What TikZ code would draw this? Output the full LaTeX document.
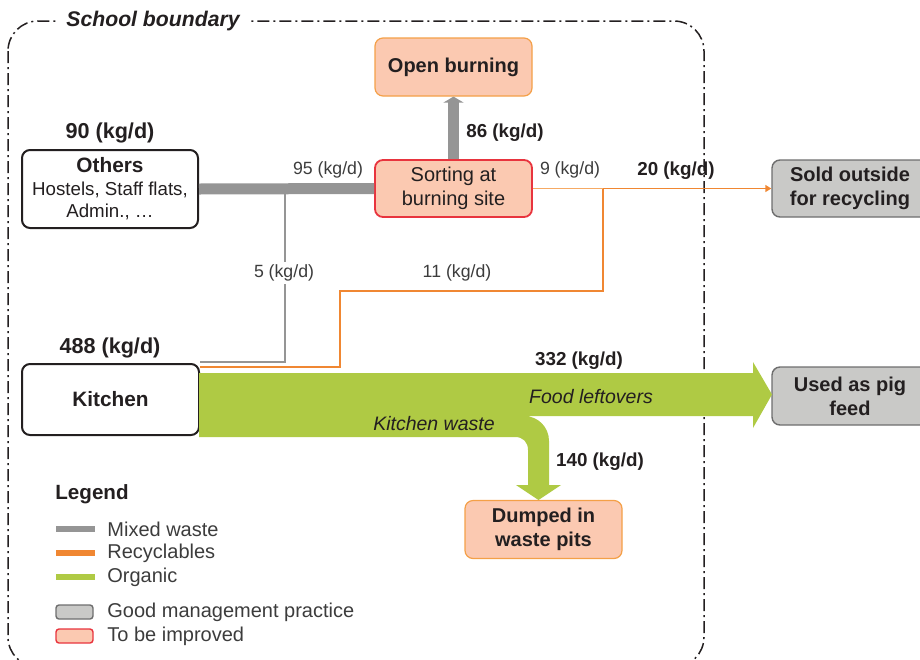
\documentclass[tikz,border=0pt]{standalone}
\usepackage{fontspec}
\setmainfont{Liberation Sans}
\usetikzlibrary{arrows.meta}

\definecolor{ink}{RGB}{35,31,32}
\definecolor{flowink}{RGB}{60,60,60}
\definecolor{mixgray}{RGB}{149,149,149}
\definecolor{recorange}{RGB}{240,135,50}
\definecolor{lightorange}{RGB}{246,170,100}
\definecolor{orggreen}{RGB}{175,202,68}
\definecolor{salmon}{RGB}{251,201,177}
\definecolor{badred}{RGB}{232,52,62}
\definecolor{boxorange}{RGB}{244,160,72}
\definecolor{goodgray}{RGB}{201,201,199}
\definecolor{goodedge}{RGB}{110,110,110}

\begin{document}
\begin{tikzpicture}[x=0.5pt,y=-0.5pt,
  every node/.style={text=ink},
  boundary/.style={draw=ink,line width=0.75pt,rounded corners=15pt,
    dash pattern=on 6pt off 2pt on 1pt off 2pt},
  srcbox/.style={draw=ink,line width=1pt,fill=white,rounded corners=4pt,
    inner sep=0pt,align=center},
  badbox/.style={draw=badred,line width=0.9pt,fill=salmon,rounded corners=4pt,
    inner sep=0pt,align=center,minimum width=78.5pt,minimum height=28.5pt},
  warnbox/.style={badbox,draw=boxorange,line width=0.6pt,minimum height=29pt},
  goodbox/.style={badbox,draw=goodedge,line width=0.7pt,fill=goodgray,minimum width=78pt},
  boxtitle/.style={font=\fontsize{10}{12}\selectfont\bfseries},
  srckg/.style={font=\fontsize{10.8}{12}\selectfont\bfseries,yshift=-1pt},
  kglabel/.style={font=\fontsize{9.4}{11}\selectfont\bfseries,yshift=-1pt},
  flowlabel/.style={font=\fontsize{8.85}{10.6}\selectfont,text=flowink,yshift=-0.5pt},
  flowitalic/.style={font=\fontsize{9.75}{11}\selectfont\itshape,yshift=-1pt},
  legtext/.style={font=\fontsize{10}{12}\selectfont,text=flowink,anchor=west,inner sep=0pt},
  mixed/.style={draw=mixgray},
  recycl/.style={draw=recorange,line width=0.7pt}
]

\clip (0,0) rectangle (920,659);

% School boundary
\draw[boundary] (8,21) rectangle (704,667);
\node[fill=white,inner xsep=4pt,inner ysep=1pt,
  font=\fontsize{10.6}{12}\selectfont\bfseries\itshape] (bound) at (153,21) {School boundary};

% Sources
\node[srcbox,minimum width=88pt,minimum height=39pt,
  font=\fontsize{9.35}{11.25}\selectfont] (others) at (110,189)
  {{\fontsize{10.4}{11.25}\selectfont\bfseries Others}\\Hostels, Staff flats,\\Admin., …};
\node[srcbox,minimum width=88.5pt,minimum height=35.5pt,
  font=\fontsize{10.4}{12}\selectfont\bfseries] (kitchen) at (110.5,399.5) {Kitchen};
\node[srckg] (othkg) at (110,131) {90 (kg/d)};
\node[srckg] (kitkg) at (110,346) {488 (kg/d)};

% Sorting and destinations
\node[badbox,font=\fontsize{10}{12}\selectfont] (sorting) at (453.5,188.5) {Sorting at\\burning site};
\node[warnbox,boxtitle] (burn) at (453.5,67) {Open burning};
\node[warnbox,boxtitle] (pits) at (543.5,529.5) {Dumped in\\waste pits};
\node[goodbox,boxtitle] (sold) at (850,188.5) {Sold outside\\for recycling};
\node[goodbox,boxtitle,minimum height=29pt] (pig) at (850,396) {Used as pig\\feed};

% Mixed waste
\coordinate (split) at (285,188);
\draw[mixed,line width=5.5pt] (others.east) -- (sorting.west);
\draw[mixed,line width=0.6pt] (split) |- ([yshift=0.5pt]kitchen.north east);
\draw[mixed,line width=5.5pt,-{Triangle[width=10pt,length=3pt]}] (sorting.north) -- (burn.south);
\node[flowlabel] at (328,169) {95 (kg/d)};
\node[flowlabel,fill=white,inner sep=1.5pt] at (284,272) {5 (kg/d)};
\node[kglabel] at (505,131) {86 (kg/d)};

% Recyclables
\coordinate (rjoin) at (603,188.5);
\draw[draw=lightorange,line width=0.6pt] (sorting.east) -- (rjoin);
\draw[recycl,-{Triangle[width=3.5pt,length=3pt]}] (rjoin) -- (sold.west);
\draw[recycl] ([yshift=-2pt]kitchen.north east) -| (340,291) -| (rjoin);
\node[flowlabel] at (570,169) {9 (kg/d)};
\node[kglabel] at (676,169) {20 (kg/d)};
\node[flowlabel] at (457,272) {11 (kg/d)};

% Organic
\fill[orggreen] (199,373) -- (753,373) -- (753,362) -- (772,394.5) -- (753,428) -- (753,416)
  -- (524,416) .. controls (538,416) and (549,427) .. (549,441) -- (549,485) -- (561,485)
  -- (538.5,500) -- (516,485) -- (528,485) -- (528,450)
  .. controls (528,442) and (523,437) .. (515,437) -- (199,437) -- cycle;
\node[flowitalic] at (591,395) {Food leftovers};
\node[flowitalic] at (434,422) {Kitchen waste};
\node[kglabel] at (579,359) {332 (kg/d)};
\node[kglabel] at (600,460) {140 (kg/d)};

% Legend
\node[anchor=west,inner sep=0pt,font=\fontsize{10.3}{12}\selectfont\bfseries] (legend) at (55,494) {Legend};
\draw[mixgray,line width=3pt] (56,529) -- (95,529);
\draw[recorange,line width=3pt] (56,553) -- (95,553);
\draw[orggreen,line width=3pt] (56,577) -- (95,577);
\node[legtext] at (107,529) {Mixed waste};
\node[legtext] at (107,553) {Recyclables};
\node[legtext] at (107,577) {Organic};
\draw[draw=goodedge,line width=0.7pt,fill=goodgray,rounded corners=1.5pt] (56,605) rectangle (93,619);
\draw[draw=badred,line width=0.7pt,fill=salmon,rounded corners=1.5pt] (56,629) rectangle (93,643);
\node[legtext] at (107,612) {Good management practice};
\node[legtext] at (107,636) {To be improved};

\end{tikzpicture}
\end{document}
